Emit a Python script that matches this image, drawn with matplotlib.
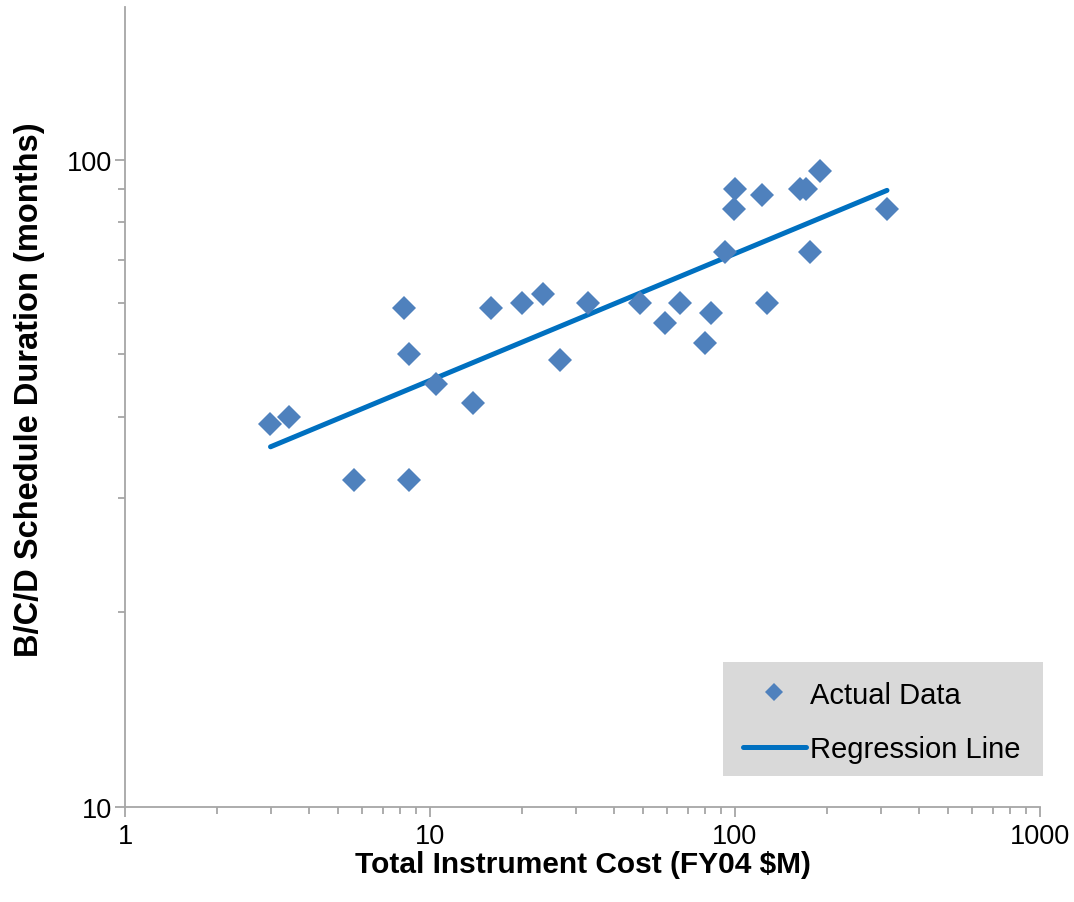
import matplotlib
matplotlib.use("Agg")
import matplotlib.pyplot as plt
from matplotlib.patches import Rectangle
from matplotlib.ticker import LogLocator, NullFormatter

plt.rcParams['font.family'] = ['Liberation Sans', 'DejaVu Sans']

# Data (cost in FY04 $M, duration in months)
cost = [2.99, 3.45, 5.65, 8.55, 8.22, 8.53, 10.5, 13.8, 15.9, 20.0,
        23.4, 26.7, 33.0, 48.8, 58.9, 66.0, 79.7, 83.4, 92.7, 99.2,
        100.2, 122.6, 127.0, 163.0, 171.0, 176.0, 190.0, 314.0]
duration = [39, 40, 32, 32, 59, 50, 45, 42, 59, 60,
            62, 49, 60, 60, 56, 60, 52, 58, 72, 84,
            90, 88, 60, 90, 90, 72, 96, 84]

# Regression line end points
reg_x = [3.0, 315.0]
reg_y = [36.0, 89.6]

x_ticks = [1, 10, 100, 1000]
x_tick_labels = ['1', '10', '100', '1000']
y_ticks = [10, 100]
y_tick_labels = ['10', '100']

marker_color = '#4F81BD'
line_color = '#0070C0'
axis_color = '#A6A6A6'

fig = plt.figure(figsize=(10.74, 9.03), dpi=100)
ax = fig.add_axes([125 / 1074, 95 / 903, 915 / 1074, 800 / 903])

pts, = ax.plot(cost, duration, linestyle='none', marker='D', ms=12.5,
               color=marker_color, markeredgewidth=0, label='Actual Data',
               zorder=3)
reg, = ax.plot(reg_x, reg_y, color=line_color, lw=3.6,
               solid_capstyle='round', label='Regression Line', zorder=2)

ax.set_xscale('log')
ax.set_yscale('log')
ax.set_xlim(1, 1000)
ax.set_ylim(10, 172)

ax.set_xticks(x_ticks)
ax.set_xticklabels(x_tick_labels)
ax.set_yticks(y_ticks)
ax.set_yticklabels(y_tick_labels)
ax.xaxis.set_minor_locator(LogLocator(base=10, subs=range(2, 10)))
ax.yaxis.set_minor_locator(LogLocator(base=10, subs=range(2, 10)))
ax.xaxis.set_minor_formatter(NullFormatter())
ax.yaxis.set_minor_formatter(NullFormatter())

for side in ['top', 'right']:
    ax.spines[side].set_visible(False)
for side in ['left', 'bottom']:
    ax.spines[side].set_color(axis_color)
    ax.spines[side].set_linewidth(1.3)

ax.tick_params(which='major', direction='out', length=7, width=1.3,
               color=axis_color, labelsize=19.5, labelcolor='black')
ax.tick_params(which='minor', direction='out', length=5, width=1.3,
               color=axis_color)
ax.tick_params(axis='y', which='major', pad=2)
ax.tick_params(axis='x', which='major', pad=4.5)

ax.set_xlabel('Total Instrument Cost (FY04 $M)', fontsize=21.5,
              fontweight='bold')
ax.set_ylabel('B/C/D Schedule Duration (months)', fontsize=23.5,
              fontweight='bold')
ax.xaxis.set_label_coords(0.5005, -0.054)
ax.yaxis.set_label_coords(-0.0875, 0.5225)

# grey legend background
ax.add_patch(Rectangle((0.6536, 0.03875), 0.3497, 0.1425,
                       transform=ax.transAxes, facecolor='#D9D9D9',
                       edgecolor='none', clip_on=False, zorder=4))
leg = ax.legend(handles=[pts, reg], loc='upper left',
                bbox_to_anchor=(0.6754, 0.158), frameon=False,
                borderpad=0, borderaxespad=0, fontsize=21,
                handlelength=2.15, handletextpad=0.14, labelspacing=0.92,
                markerscale=0.72)
leg.set_zorder(5)

fig.savefig('out.png', dpi=100)
